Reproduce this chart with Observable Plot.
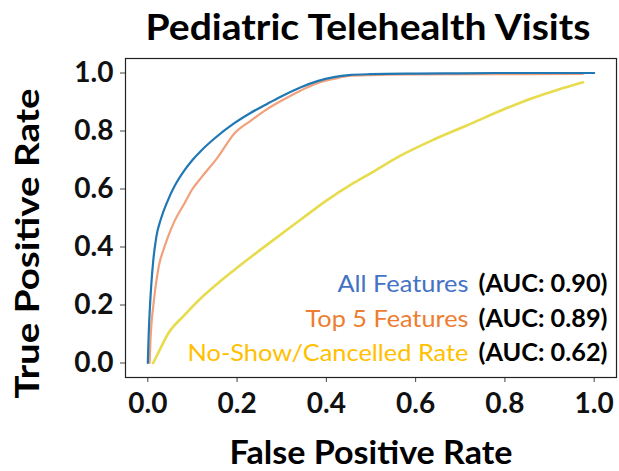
<!DOCTYPE html>
<html>
<head>
<meta charset="utf-8">
<script src="https://cdn.jsdelivr.net/npm/d3@7"></script>
<script src="https://cdn.jsdelivr.net/npm/@observablehq/plot@0.6"></script>
<style>
  html, body { margin: 0; padding: 0; background: #fff; }
  svg { display: block; font-family: Lato, "Noto Sans", sans-serif; }
</style>
</head>
<body>
<div id="chart"></div>
<script>
// ---- Data ----
const titleText = "Pediatric Telehealth Visits";
const xLabel = "False Positive Rate";
const yLabel = "True Positive Rate";
const tickValues = [0, 0.2, 0.4, 0.6, 0.8, 1.0];

const seriesNames = ["All Features", "Top 5 Features", "No-Show/Cancelled Rate"];
const aucLabels = ["(AUC: 0.90)", "(AUC: 0.89)", "(AUC: 0.62)"];
const lineColors = ["#1f77b4", "#f2a07b", "#e6dc4e"];
const textColors = ["#4472C4", "#ED7D31", "#FFC000"];

// All Features ROC: [fpr, tpr]
const allFeatures = [
  [0,0],[0.002,0.1],[0.005,0.2],[0.008,0.275],[0.012,0.35],[0.019,0.434],[0.03,0.5],
  [0.045,0.561],[0.06,0.61],[0.082,0.664],[0.1,0.7],[0.12,0.733],[0.15,0.775],
  [0.193,0.826],[0.23,0.862],[0.269,0.895],[0.3,0.92],[0.343,0.951],[0.38,0.972],
  [0.417,0.986],[0.45,0.993],[0.5,0.996],[0.6,0.998],[0.7,0.999],[0.8,1.0],[1.0,1.0]
];
// Top 5 Features ROC
const top5Features = [
  [0.004,0],[0.006,0.08],[0.009,0.15],[0.012,0.193],[0.018,0.27],[0.026,0.344],
  [0.035,0.39],[0.045,0.434],[0.06,0.49],[0.082,0.55],[0.1,0.6],[0.12,0.64],
  [0.157,0.71],[0.193,0.79],[0.231,0.836],[0.269,0.877],[0.3,0.905],[0.343,0.94],
  [0.38,0.965],[0.417,0.98],[0.45,0.99],[0.5,0.993],[0.6,0.995],[0.8,0.996],[0.975,0.997]
];
// No-Show/Cancelled Rate ROC
const noShowRate = [
  [0.012,0],[0.025,0.04],[0.045,0.1],[0.082,0.165],[0.12,0.225],[0.157,0.275],
  [0.193,0.32],[0.269,0.41],[0.343,0.495],[0.4,0.56],[0.455,0.615],[0.5,0.655],
  [0.566,0.715],[0.64,0.77],[0.716,0.82],[0.79,0.87],[0.864,0.915],[0.92,0.943],[0.975,0.968]
];

const curves = [allFeatures, top5Features, noShowRate];
const drawOrder = [2, 1, 0];

// ---- Chart ----
const frameRight = 616;
const chart = Plot.plot({
  width: 619,
  height: 471,
  marginTop: 58,
  marginLeft: 125,
  marginRight: 619 - frameRight,
  marginBottom: 94,
  style: { fontFamily: "Lato, sans-serif", background: "#fff", overflow: "visible" },
  x: { domain: [-0.05, 1.05], ticks: tickValues, tickFormat: d3.format(".1f"), label: null },
  y: { domain: [-0.05, 1.05], ticks: tickValues, tickFormat: d3.format(".1f"), label: null },
  marks: [
    Plot.axisX({ ticks: tickValues, tickFormat: d3.format(".1f"), tickSize: 5, tickPadding: 11,
      fontSize: 28, fontWeight: "bold", fill: "#111", stroke: "#444", label: null }),
    Plot.axisY({ ticks: tickValues, tickFormat: d3.format(".1f"), tickSize: 5, tickPadding: 7,
      fontSize: 28, fontWeight: "bold", fill: "#111", stroke: "#444", label: null }),
    ...drawOrder.map(i => Plot.line(curves[i], {
      x: d => d[0], y: d => d[1], stroke: lineColors[i], strokeWidth: i === 2 ? 2.6 : 2.2, curve: "monotone-x"
    })),
    Plot.frame({ stroke: "#222", strokeWidth: 1.2 }),
    Plot.text([titleText], { frameAnchor: "top", dx: -3, dy: -30, lineAnchor: "middle",
      fontSize: 36, fontWeight: "bold", fill: "#000" }),
    Plot.text([xLabel], { frameAnchor: "bottom", dx: 0, dy: 76, lineAnchor: "middle",
      fontSize: 32, fontWeight: "bold", fill: "#000" }),
    Plot.text([yLabel], { frameAnchor: "left", textAnchor: "middle", dx: -97, dy: 25.5, rotate: -90,
      lineAnchor: "middle", fontSize: 33, fontWeight: "bold", fill: "#000" }),
    ...seriesNames.map((name, i) => Plot.text([name], {
      frameAnchor: "bottom-right", textAnchor: "end", lineAnchor: "middle",
      dx: -148, dy: -24 - (seriesNames.length - 1 - i) * 34.5,
      fontSize: 24, fill: textColors[i]
    })),
    ...aucLabels.map((auc, i) => Plot.text([auc], {
      frameAnchor: "bottom-right", textAnchor: "end", lineAnchor: "middle",
      dx: -9, dy: -24 - (aucLabels.length - 1 - i) * 34.5,
      fontSize: 24, fontWeight: "bold", fill: "#000"
    }))
  ]
});

// Fit text widths to the reference
const targetWidths = new Map([
  [titleText, 445], [xLabel, 283], [yLabel, 310],
  [seriesNames[0], 131], [seriesNames[1], 163], [seriesNames[2], 281],
  [aucLabels[0], 129], [aucLabels[1], 129], [aucLabels[2], 129]
]);
d3.select(chart).selectAll("text").each(function () {
  const t = this.textContent;
  if (targetWidths.has(t)) {
    this.setAttribute("textLength", targetWidths.get(t));
    this.setAttribute("lengthAdjust", "spacingAndGlyphs");
  }
});

document.getElementById("chart").appendChild(chart);
</script>
</body>
</html>
